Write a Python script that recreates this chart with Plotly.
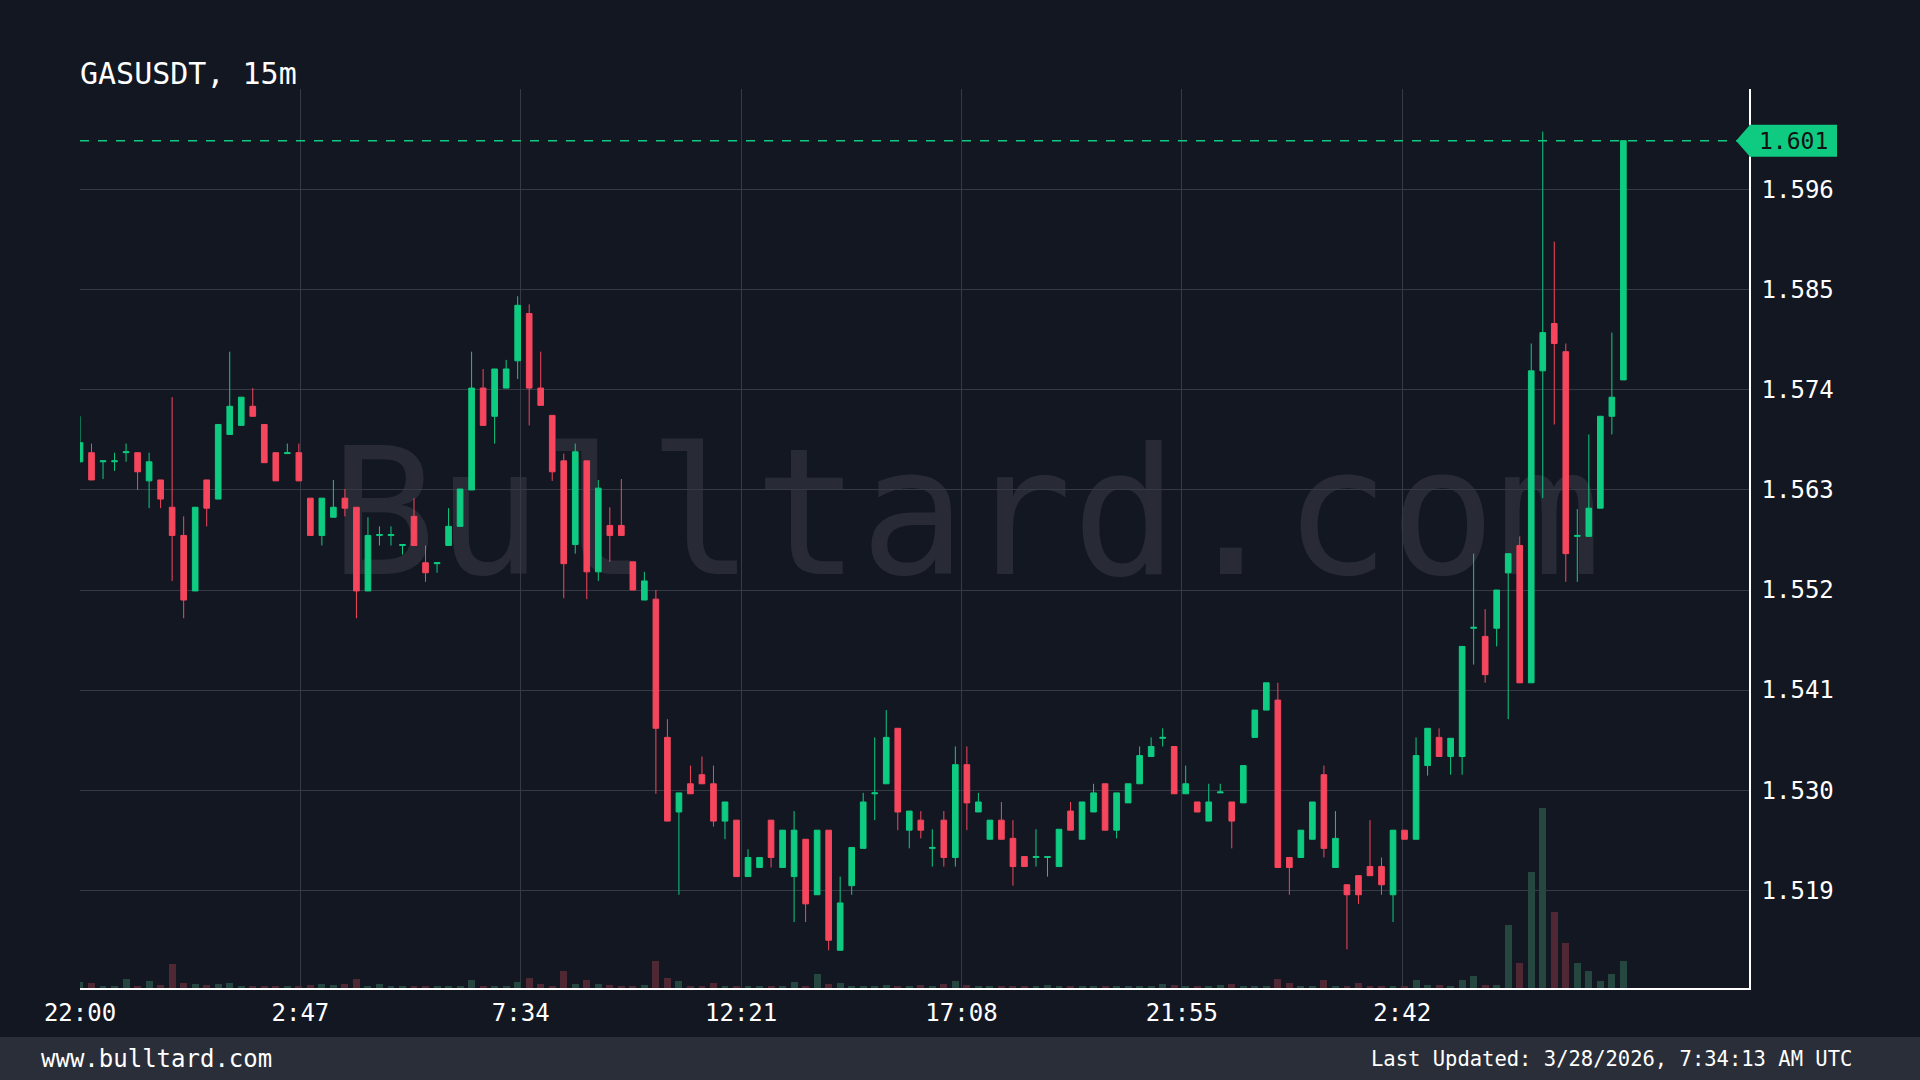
"""
GASUSDT 15m candlestick chart with volume overlay (dark theme)
"""
import pandas as pd
import plotly.graph_objects as go

SYMBOL = "GASUSDT"
INTERVAL = "15m"
START = "2026-03-26 22:00"
SITE = "www.bulltard.com"
WATERMARK = "Bulltard.com"
UPDATED = "Last Updated: 3/28/2026, 7:34:13 AM UTC"

opens = [
    1.5661, 1.5671, 1.5661, 1.5661, 1.5671, 1.5671, 1.5640, 1.5641, 1.5611, 1.5580,
    1.5519, 1.5641, 1.5620, 1.5691, 1.5701, 1.5722, 1.5702, 1.5671, 1.5670, 1.5671,
    1.5621, 1.5580, 1.5600, 1.5621, 1.5611, 1.5519, 1.5580, 1.5580, 1.5569, 1.5601,
    1.5550, 1.5549, 1.5569, 1.5590, 1.5630, 1.5742, 1.5711, 1.5742, 1.5772, 1.5824,
    1.5742, 1.5712, 1.5662, 1.5570, 1.5662, 1.5540, 1.5591, 1.5591, 1.5551, 1.5509,
    1.5510, 1.5358, 1.5276, 1.5307, 1.5317, 1.5307, 1.5266, 1.5267, 1.5205, 1.5215,
    1.5267, 1.5215, 1.5205, 1.5246, 1.5185, 1.5256, 1.5124, 1.5195, 1.5236, 1.5296,
    1.5307, 1.5368, 1.5256, 1.5267, 1.5236, 1.5267, 1.5226, 1.5328, 1.5276, 1.5246,
    1.5267, 1.5247, 1.5227, 1.5226, 1.5226, 1.5216, 1.5277, 1.5246, 1.5276, 1.5307,
    1.5256, 1.5286, 1.5307, 1.5337, 1.5357, 1.5348, 1.5296, 1.5287, 1.5266, 1.5297,
    1.5287, 1.5286, 1.5358, 1.5388, 1.5399, 1.5226, 1.5226, 1.5246, 1.5317, 1.5215,
    1.5196, 1.5206, 1.5216, 1.5216, 1.5185, 1.5256, 1.5246, 1.5327, 1.5358, 1.5337,
    1.5337, 1.5478, 1.5469, 1.5478, 1.5539, 1.5569, 1.5418, 1.5761, 1.5813, 1.5782,
    1.5579, 1.5579, 1.5610, 1.5711, 1.5751,
]
highs = [
    1.5711, 1.5681, 1.5662, 1.5671, 1.5681, 1.5671, 1.5671, 1.5641, 1.5732, 1.5601,
    1.5611, 1.5641, 1.5702, 1.5782, 1.5732, 1.5742, 1.5702, 1.5671, 1.5681, 1.5681,
    1.5621, 1.5621, 1.5641, 1.5631, 1.5611, 1.5600, 1.5590, 1.5590, 1.5570, 1.5621,
    1.5569, 1.5550, 1.5610, 1.5631, 1.5782, 1.5763, 1.5763, 1.5773, 1.5843, 1.5834,
    1.5782, 1.5712, 1.5670, 1.5681, 1.5662, 1.5641, 1.5611, 1.5642, 1.5551, 1.5540,
    1.5520, 1.5378, 1.5297, 1.5327, 1.5337, 1.5327, 1.5287, 1.5267, 1.5235, 1.5226,
    1.5267, 1.5256, 1.5277, 1.5246, 1.5256, 1.5256, 1.5205, 1.5237, 1.5297, 1.5358,
    1.5388, 1.5368, 1.5277, 1.5277, 1.5257, 1.5277, 1.5348, 1.5348, 1.5297, 1.5267,
    1.5287, 1.5267, 1.5227, 1.5257, 1.5227, 1.5257, 1.5287, 1.5287, 1.5307, 1.5307,
    1.5297, 1.5307, 1.5348, 1.5358, 1.5368, 1.5348, 1.5327, 1.5287, 1.5307, 1.5307,
    1.5287, 1.5327, 1.5388, 1.5418, 1.5418, 1.5226, 1.5256, 1.5287, 1.5327, 1.5277,
    1.5196, 1.5206, 1.5267, 1.5226, 1.5256, 1.5256, 1.5358, 1.5368, 1.5368, 1.5357,
    1.5458, 1.5560, 1.5499, 1.5520, 1.5560, 1.5579, 1.5791, 1.6024, 1.5903, 1.5791,
    1.5609, 1.5691, 1.5711, 1.5803, 1.6014,
]
lows = [
    1.5660, 1.5641, 1.5642, 1.5651, 1.5661, 1.5630, 1.5610, 1.5610, 1.5530, 1.5489,
    1.5519, 1.5590, 1.5620, 1.5691, 1.5701, 1.5711, 1.5660, 1.5640, 1.5670, 1.5640,
    1.5580, 1.5569, 1.5600, 1.5601, 1.5489, 1.5519, 1.5569, 1.5569, 1.5559, 1.5569,
    1.5529, 1.5539, 1.5569, 1.5590, 1.5630, 1.5701, 1.5681, 1.5742, 1.5752, 1.5701,
    1.5723, 1.5640, 1.5511, 1.5560, 1.5510, 1.5530, 1.5551, 1.5580, 1.5520, 1.5509,
    1.5296, 1.5266, 1.5185, 1.5296, 1.5307, 1.5260, 1.5246, 1.5205, 1.5205, 1.5215,
    1.5215, 1.5215, 1.5155, 1.5155, 1.5185, 1.5124, 1.5124, 1.5185, 1.5236, 1.5267,
    1.5307, 1.5256, 1.5236, 1.5247, 1.5216, 1.5216, 1.5216, 1.5256, 1.5276, 1.5246,
    1.5246, 1.5195, 1.5216, 1.5216, 1.5205, 1.5216, 1.5256, 1.5246, 1.5276, 1.5256,
    1.5247, 1.5286, 1.5307, 1.5337, 1.5348, 1.5296, 1.5296, 1.5276, 1.5266, 1.5297,
    1.5236, 1.5286, 1.5358, 1.5388, 1.5215, 1.5185, 1.5226, 1.5246, 1.5226, 1.5215,
    1.5125, 1.5175, 1.5206, 1.5185, 1.5155, 1.5246, 1.5246, 1.5316, 1.5337, 1.5317,
    1.5317, 1.5438, 1.5418, 1.5458, 1.5378, 1.5418, 1.5418, 1.5621, 1.5702, 1.5529,
    1.5529, 1.5579, 1.5610, 1.5691, 1.5751,
]
closes = [
    1.5682, 1.5641, 1.5662, 1.5662, 1.5672, 1.5650, 1.5661, 1.5620, 1.5580, 1.5509,
    1.5611, 1.5610, 1.5702, 1.5722, 1.5732, 1.5711, 1.5660, 1.5640, 1.5671, 1.5640,
    1.5580, 1.5621, 1.5611, 1.5610, 1.5519, 1.5580, 1.5581, 1.5581, 1.5570, 1.5569,
    1.5539, 1.5550, 1.5590, 1.5631, 1.5742, 1.5701, 1.5763, 1.5763, 1.5833, 1.5742,
    1.5723, 1.5650, 1.5549, 1.5672, 1.5540, 1.5632, 1.5580, 1.5580, 1.5520, 1.5530,
    1.5368, 1.5266, 1.5297, 1.5296, 1.5307, 1.5266, 1.5287, 1.5205, 1.5226, 1.5226,
    1.5226, 1.5256, 1.5256, 1.5175, 1.5256, 1.5135, 1.5176, 1.5237, 1.5287, 1.5297,
    1.5358, 1.5276, 1.5277, 1.5256, 1.5237, 1.5226, 1.5328, 1.5286, 1.5287, 1.5267,
    1.5246, 1.5216, 1.5216, 1.5227, 1.5227, 1.5257, 1.5256, 1.5287, 1.5297, 1.5256,
    1.5297, 1.5307, 1.5338, 1.5348, 1.5358, 1.5296, 1.5307, 1.5276, 1.5287, 1.5298,
    1.5266, 1.5327, 1.5388, 1.5418, 1.5215, 1.5215, 1.5256, 1.5287, 1.5236, 1.5247,
    1.5185, 1.5185, 1.5206, 1.5196, 1.5256, 1.5246, 1.5338, 1.5368, 1.5337, 1.5357,
    1.5458, 1.5479, 1.5427, 1.5520, 1.5560, 1.5418, 1.5761, 1.5803, 1.5791, 1.5560,
    1.5580, 1.5610, 1.5711, 1.5732, 1.6014,
]
# volume in thousands
volumes = [
    5.7, 5, 1.5, 1.5, 9.3, 1.5, 7.3, 3, 24, 5,
    3.7, 3, 4.3, 5, 2, 2, 1.5, 1, 1, 2,
    2.7, 4, 3, 4, 9.3, 2, 4, 1.5, 1.5, 1.5,
    2, 1, 1.5, 1.5, 8, 1.5, 1.5, 1.5, 5.7, 9.7,
    4, 2, 17, 4, 8, 4, 2.7, 2, 1.5, 3.3,
    27, 9.7, 7.3, 2, 2, 4.7, 1.5, 1.5, 1, 1,
    1.5, 1.5, 6, 1.5, 14, 4.3, 5, 2, 2, 1.5,
    3, 2, 1.5, 3, 1.5, 4, 7.3, 3.3, 1, 1,
    1.5, 2, 2, 1, 3.3, 2, 2, 1, 1.5, 2,
    1.5, 1, 1.5, 1, 4, 2.7, 1, 1.5, 1, 2.5,
    4, 1, 1, 1.5, 9, 4.7, 1, 1.5, 7.7, 1.5,
    1.5, 5, 2, 2, 1.5, 1.5, 7.7, 2.5, 3, 1.5,
    7.7, 11.7, 3, 3.3, 63, 25, 115, 179, 76, 45,
    25, 17, 7, 14, 27,
]

x_tick_times = [
    "2026-03-26 22:00", "2026-03-27 02:47", "2026-03-27 07:34", "2026-03-27 12:21",
    "2026-03-27 17:08", "2026-03-27 21:55", "2026-03-28 02:42",
]
x_tick_labels = ["22:00", "2:47", "7:34", "12:21", "17:08", "21:55", "2:42"]
y_ticks = [1.519, 1.530, 1.541, 1.552, 1.563, 1.574, 1.585, 1.596]

X_RANGE = ["2026-03-26 22:00", "2026-03-28 10:13:36"]
Y_RANGE = [1.50825, 1.60708]

BG = "#131722"
FOOTER_BG = "#2a2e39"
GRID = "#363a45"
GREEN = "#0ecb81"
RED = "#f6465d"
VOL_GREEN = "#254740"
VOL_RED = "#4f2833"
FONT = "DejaVu Sans Mono"

W, H = 1920, 1080
PL, PR, PT, PB = 80, 1749, 89, 988


def px_x(x):
    return (x - PL) / (PR - PL)


def px_y(y):
    return (PB - y) / (PB - PT)


def price_y(p):
    return PB - (p - Y_RANGE[0]) / (Y_RANGE[1] - Y_RANGE[0]) * (PB - PT)


times = pd.date_range(START, periods=len(opens), freq="15min")
vol_colors = [VOL_GREEN if c >= o else VOL_RED for o, c in zip(opens, closes)]

fig = go.Figure()

fig.add_trace(go.Bar(
    x=times,
    y=volumes,
    marker_color=vol_colors,
    marker_line_width=0,
    width=15 * 60 * 1000 * 0.6,
    yaxis="y2",
    hoverinfo="skip",
))

fig.add_trace(go.Candlestick(
    x=times,
    open=opens,
    high=highs,
    low=lows,
    close=closes,
    increasing=dict(line=dict(color=GREEN, width=1), fillcolor=GREEN),
    decreasing=dict(line=dict(color=RED, width=1), fillcolor=RED),
    whiskerwidth=0,
))

last = closes[-1]
ly = price_y(last)

shapes = [
    # watermark (below traces)
    dict(type="rect", xref="paper", yref="paper", layer="below",
         x0=px_x(366), x1=px_x(1566), y0=px_y(585), y1=px_y(415),
         line=dict(width=0), fillcolor="rgba(0,0,0,0)",
         label=dict(text=WATERMARK, textposition="middle center",
                    font=dict(family=FONT, size=176, color="rgba(255,255,255,0.09)"))),
    # last price line
    dict(type="line", xref="paper", yref="y", x0=0, x1=1, y0=last, y1=last,
         line=dict(color=GREEN, width=1.5, dash="dash")),
    # price tag
    dict(type="rect", xref="paper", yref="paper",
         x0=px_x(PR), x1=px_x(1837), y0=px_y(ly + 16), y1=px_y(ly - 16),
         line=dict(width=0), fillcolor=GREEN),
    dict(type="path", xref="paper", yref="paper",
         path=f"M {px_x(1736)},{px_y(ly)} L {px_x(PR + 1)},{px_y(ly - 16)} "
              f"L {px_x(PR + 1)},{px_y(ly + 16)} Z",
         line=dict(width=0), fillcolor=GREEN),
    # footer bar
    dict(type="rect", xref="paper", yref="paper",
         x0=px_x(0), x1=px_x(W), y0=px_y(H), y1=px_y(1037),
         line=dict(width=0), fillcolor=FOOTER_BG),
]

annotations = [
    dict(text=f"{SYMBOL}, {INTERVAL}", xref="paper", yref="paper",
         x=px_x(PL - 2), y=px_y(73), xanchor="left", yanchor="middle",
         showarrow=False, font=dict(family=FONT, size=30, color="white")),
    dict(text=f"{last:.3f}", xref="paper", yref="paper",
         x=px_x(1793), y=px_y(ly), xanchor="center", yanchor="middle",
         showarrow=False, font=dict(family=FONT, size=23, color="#111111")),
    dict(text=SITE, xref="paper", yref="paper",
         x=px_x(39), y=px_y(1059), xanchor="left", yanchor="middle",
         showarrow=False, font=dict(family=FONT, size=24, color="white")),
    dict(text=UPDATED, xref="paper", yref="paper",
         x=px_x(1854), y=px_y(1059), xanchor="right", yanchor="middle",
         showarrow=False, font=dict(family=FONT, size=20.5, color="white")),
]

fig.update_layout(
    width=W,
    height=H,
    paper_bgcolor=BG,
    plot_bgcolor=BG,
    margin=dict(l=PL, r=W - PR, t=PT, b=H - PB),
    showlegend=False,
    font=dict(family=FONT, color="white", size=24),
    shapes=shapes,
    annotations=annotations,
    bargap=0,
    xaxis=dict(
        type="date",
        range=X_RANGE,
        tickvals=x_tick_times,
        ticktext=x_tick_labels,
        showgrid=True,
        gridcolor=GRID,
        gridwidth=1,
        showline=True,
        linecolor="white",
        linewidth=1.5,
        zeroline=False,
        ticks="",
        ticklabelstandoff=2,
        rangeslider=dict(visible=False),
        tickfont=dict(family=FONT, size=24, color="white"),
    ),
    yaxis=dict(
        side="right",
        range=Y_RANGE,
        tickvals=y_ticks,
        ticktext=[f"{v:.3f}" for v in y_ticks],
        showgrid=True,
        gridcolor=GRID,
        gridwidth=1,
        showline=True,
        linecolor="white",
        linewidth=1.5,
        zeroline=False,
        ticks="",
        ticklabelstandoff=6,
        tickfont=dict(family=FONT, size=24, color="white"),
    ),
    yaxis2=dict(
        overlaying="y",
        range=[0, max(volumes) * (PB - PT) / 180],
        visible=False,
        showgrid=False,
    ),
)

fig.write_html(
    "out.html",
    config={"displayModeBar": False},
    post_script="document.body.style.margin='0';",
)
